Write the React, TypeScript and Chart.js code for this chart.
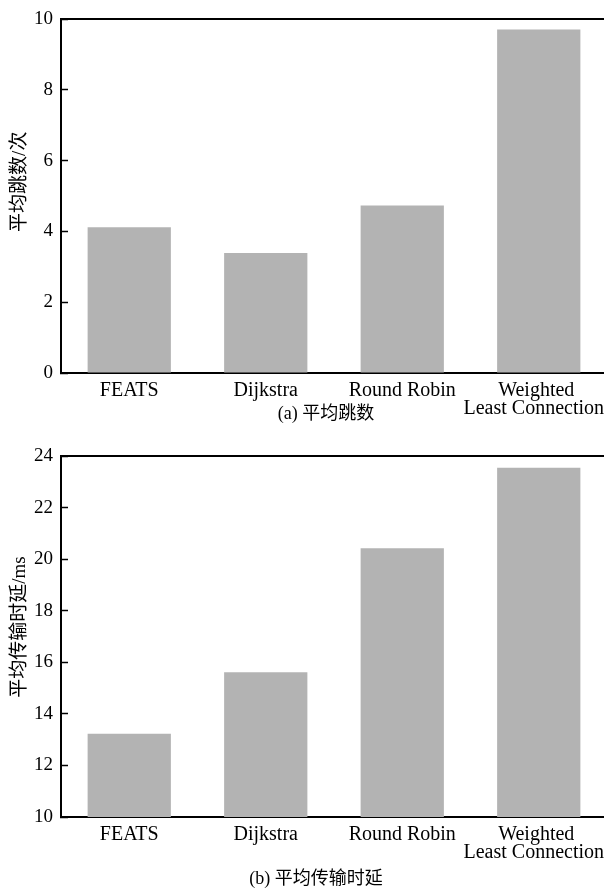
import React, { useEffect, useRef } from 'react';
import { Chart, registerables } from 'chart.js';

Chart.register(...registerables);

// ---- data ----
const categories: (string | string[])[] = ['FEATS', 'Dijkstra', 'Round Robin', ['Weighted', 'Least Connection']];
const avgHops = [4.12, 3.39, 4.73, 9.7];
const avgDelay = [13.23, 15.61, 20.42, 23.54];
const hopRange = [0, 10];
const delayRange = [10, 24];
const tickStep = 2;
const hopAxisTitle = '平均跳数/次';
const delayAxisTitle = '平均传输时延/ms';
const captionA = '(a) 平均跳数';
const captionB = '(b) 平均传输时延';

const FONT = "'Liberation Serif', 'Noto Sans CJK SC', serif";
const NB = '\u00a0';

const topLine = {
  id: 'topLine',
  afterDraw(chart: any) {
    const { ctx, chartArea } = chart;
    ctx.save();
    ctx.strokeStyle = '#000';
    ctx.lineWidth = 2;
    ctx.beginPath();
    ctx.moveTo(chartArea.left - 1, chartArea.top);
    ctx.lineTo(chart.width, chartArea.top);
    ctx.stroke();
    ctx.restore();
  },
};

type Props = {
  values: number[];
  range: number[];
  axisTitle: string;
  titleShift: number;
  top: number;
  height: number;
  padTop: number;
  xHeight: number;
};

function BarChart({ values, range, axisTitle, titleShift, top, height, padTop, xHeight }: Props) {
  const ref = useRef<HTMLCanvasElement | null>(null);
  useEffect(() => {
    if (!ref.current) return;
    const chart = new Chart(ref.current, {
      type: 'bar',
      data: {
        labels: categories as any,
        datasets: [
          {
            data: values,
            backgroundColor: '#b3b3b3',
            borderWidth: 0,
            barPercentage: 0.61,
            categoryPercentage: 1,
          },
        ],
      },
      options: {
        responsive: false,
        animation: false,
        layout: { padding: { top: padTop, right: 13, left: 0, bottom: 0 } },
        plugins: { legend: { display: false }, tooltip: { enabled: false }, title: { display: false } },
        scales: {
          x: {
            type: 'category',
            grid: { display: true, drawOnChartArea: false, drawTicks: false },
            border: { display: true, color: '#000', width: 2 },
            ticks: {
              color: '#000',
              padding: 9,
              maxRotation: 0,
              autoSkip: false,
              font: { family: FONT, size: 20, lineHeight: 0.9 },
              callback(this: any, _v: any, i: number) {
                const lab = categories[i];
                if (Array.isArray(lab)) {
                  // nudge the long two-line label slightly left, as in the original layout
                  return [lab[0] + NB, lab[1] + NB + NB];
                }
                return lab;
              },
            },
            afterFit(scale: any) {
              scale.height = xHeight;
              scale.paddingLeft = 0;
              scale.paddingRight = 0;
            },
          },
          y: {
            type: 'linear',
            min: range[0],
            max: range[1],
            grid: {
              display: true,
              drawOnChartArea: false,
              drawTicks: true,
              tickLength: -7,
              tickColor: '#000',
              tickWidth: 1.5,
            },
            border: { display: true, color: '#000', width: 2 },
            ticks: {
              stepSize: tickStep,
              color: '#000',
              padding: 15,
              font: { family: FONT, size: 19 },
            },
            title: {
              display: true,
              text: NB.repeat(titleShift) + axisTitle,
              color: '#000',
              padding: { top: 9, bottom: 0 },
              font: { family: FONT, size: 19, lineHeight: 1.2 },
            },
            afterFit(scale: any) {
              scale.width = 61;
              scale.paddingTop = 0;
              scale.paddingBottom = 0;
            },
          },
        },
      },
      plugins: [topLine],
    });
    return () => chart.destroy();
  }, []);
  return (
    <canvas
      ref={ref}
      width={620}
      height={height}
      style={{ position: 'absolute', left: 0, top, width: 620, height }}
    />
  );
}

const captionStyle: React.CSSProperties = {
  position: 'absolute',
  fontFamily: FONT,
  fontSize: 18,
  lineHeight: '20px',
  color: '#000',
  whiteSpace: 'nowrap',
  transform: 'translateX(-50%)',
};

export default function App() {
  return (
    <div
      style={{
        position: 'fixed',
        left: 0,
        top: 0,
        width: 604,
        height: 889,
        overflow: 'hidden',
        background: '#fff',
      }}
    >
      <BarChart values={avgHops} range={hopRange} axisTitle={hopAxisTitle} titleShift={6} top={0} height={440} padTop={19} xHeight={67} />
      <div style={{ ...captionStyle, left: 326, top: 403 }}>{captionA}</div>
      <BarChart values={avgDelay} range={delayRange} axisTitle={delayAxisTitle} titleShift={4} top={440} height={449} padTop={16} xHeight={72} />
      <div style={{ ...captionStyle, left: 316, top: 868 }}>{captionB}</div>
    </div>
  );
}
